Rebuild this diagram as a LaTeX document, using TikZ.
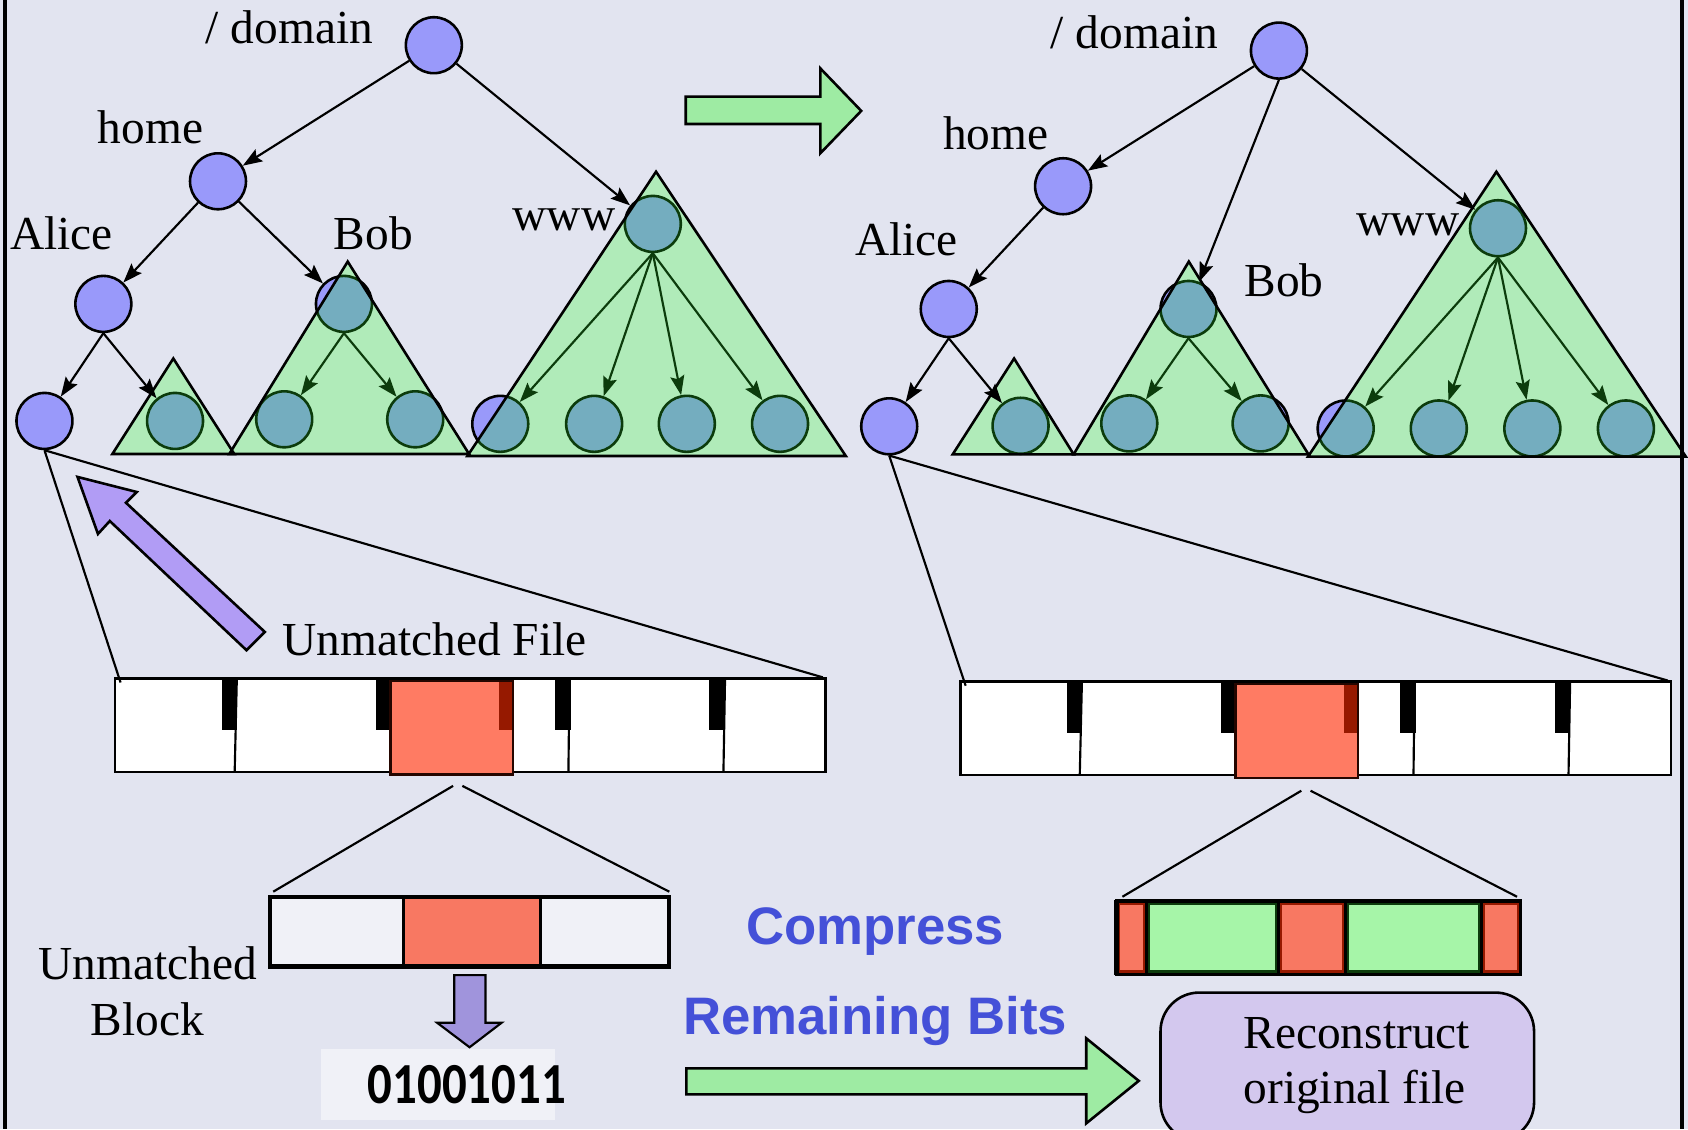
\documentclass[tikz,border=0pt]{standalone}
\usepackage{fontspec}
\setmainfont{Liberation Serif}
\newfontfamily\headsans{Liberation Sans}
\newfontfamily\bitfont[FakeStretch=0.84]{Carlito}
\usetikzlibrary{arrows.meta}

\definecolor{paper}{RGB}{226,228,240}
\definecolor{dirblue}{RGB}{153,153,250}
\definecolor{subteal}{RGB}{116,173,191}
\definecolor{subfill}{RGB}{176,235,185}
\definecolor{subline}{RGB}{12,60,12}
\definecolor{goarrow}{RGB}{158,235,163}
\definecolor{salmon}{RGB}{255,123,99}
\definecolor{blocksalmon}{RGB}{248,120,98}
\definecolor{deepred}{RGB}{150,25,0}
\definecolor{matchgreen}{RGB}{166,245,168}
\definecolor{lightcell}{RGB}{240,241,247}
\definecolor{backarrow}{RGB}{177,156,245}
\definecolor{downarrow}{RGB}{160,148,220}
\definecolor{titleblue}{RGB}{68,80,216}
\definecolor{lavender}{RGB}{211,200,238}

\begin{document}
\begin{tikzpicture}[x=1pt,y=-1pt,
  dirnode/.style={circle,draw=black,fill=dirblue,line width=2.4,minimum size=52,inner sep=0},
  subnode/.style={dirnode,draw=subline,fill=subteal},
  link/.style={line width=2,-{Stealth[length=18,width=13,inset=3]}},
  sublink/.style={link,draw=subline,fill=subline},
  subtree/.style={fill=subfill},
  subedge/.style={draw=black,line width=2.4,line join=miter},
  lbl/.style={font=\fontsize{44}{52}\selectfont,inner sep=0,anchor=base west},
  bigsans/.style={font=\headsans\bfseries\fontsize{49}{56}\selectfont,text=titleblue,inner sep=0,anchor=base west},
  fanline/.style={line width=2},
  blockarrow/.style={draw=black,line width=2.4,line join=miter}
]
\useasboundingbox (0,0) rectangle (1568,1049);
\fill[paper] (0,0) rectangle (1568,1049);
\clip (0,0) rectangle (1568,1049);

% ---------------- directory tree before (left) ----------------
\foreach \n/\p in {Lroot/{403,42},Lhome/{202.5,168.4},Lalice/{96,282.3},Lleaf/{41.3,391},
                   Lbob/{319.5,282.3},Lwww/{606.4,208},Ls1/{162.6,391},Lb1/{264,389.5},Lb2/{385.7,389.5},
                   Lw1/{464.7,393.7},Lw2/{551.9,393.7},Lw3/{638,393.7},Lw4/{724.6,393.7}}
  \node[dirnode] (\n) at (\p) {};

\coordinate (LsA) at (161,333);    \coordinate (LsB) at (104.4,421.7); \coordinate (LsC) at (217.6,421.7);
\coordinate (LbA) at (323,243);    \coordinate (LbB) at (213,421.7);   \coordinate (LbC) at (435.7,421.7);
\coordinate (LwA) at (609.4,159.5);\coordinate (LwB) at (434.2,423.6); \coordinate (LwC) at (785.7,423.6);

\fill[subtree] (LsA) -- (LsB) -- (LsC) -- cycle;
\fill[subtree] (LbA) -- (LbB) -- (LbC) -- cycle;
\fill[subtree] (LwA) -- (LwB) -- (LwC) -- cycle;

\begin{scope}
  \clip (LsA) -- (LsB) -- (LsC) -- cycle;
  \node[subnode] (Ls1In) at (Ls1) {};
\end{scope}
\begin{scope}
  \clip (LbA) -- (LbB) -- (LbC) -- cycle;
  \foreach \n in {Lbob,Lb1,Lb2} \node[subnode] (\n In) at (\n) {};
\end{scope}
\begin{scope}
  \clip (LwA) -- (LwB) -- (LwC) -- cycle;
  \foreach \n in {Lwww,Lw1,Lw2,Lw3,Lw4} \node[subnode] (\n In) at (\n) {};
\end{scope}

\foreach \c in {Lb1In,Lb2In} \draw[sublink] (LbobIn.south) -- (\c);
\foreach \c in {Lw1In,Lw2In,Lw3In,Lw4In} \draw[sublink] (LwwwIn.south) -- (\c);

\draw[subedge] (LsA) -- (LsB) -- (LsC) -- cycle;
\draw[subedge] (LbA) -- (LbB) -- (LbC) -- cycle;
\draw[subedge] (LwA) -- (LwB) -- (LwC) -- cycle;

\draw[link] (Lroot) -- (Lhome);
\draw[link] (Lroot) -- (Lwww);
\draw[link] (Lhome) -- (Lalice);
\draw[link] (Lhome) -- (Lbob);
\draw[link] (Lalice.south) -- (Lleaf);
\draw[link] (Lalice.south) -- (Ls1);

\node[lbl] (LtRoot) at (191,40.3) {/ domain};
\node[lbl] (LtHome) at (90.7,133) {home};
\node[lbl] (LtAlice) at (9.2,232) {Alice};
\node[lbl] (LtBob) at (310,232) {Bob};
\node[lbl] (LtWww) at (476,214) {www};

% ---------------- directory tree after (right) ----------------
\foreach \n/\p in {Rroot/{1188,47},Rhome/{987.5,173},Ralice/{881.3,287},Rleaf/{826,396},
                   Rbob/{1104,287},Rwww/{1391.5,212},Rs1/{948,395.5},Rb1/{1049,393.3},Rb2/{1171,393.3},
                   Rw1/{1250,398},Rw2/{1336.5,398},Rw3/{1423.4,398},Rw4/{1510.3,398}}
  \node[dirnode] (\n) at (\p) {};

\coordinate (RsA) at (942,333);     \coordinate (RsB) at (885,422);     \coordinate (RsC) at (997.3,422);
\coordinate (RbA) at (1104.3,243);  \coordinate (RbB) at (997.3,422);   \coordinate (RbC) at (1215.4,422);
\coordinate (RwA) at (1390,159.5);  \coordinate (RwB) at (1215,424.2);  \coordinate (RwC) at (1566,424.2);

\fill[subtree] (RsA) -- (RsB) -- (RsC) -- cycle;
\fill[subtree] (RbA) -- (RbB) -- (RbC) -- cycle;
\fill[subtree] (RwA) -- (RwB) -- (RwC) -- cycle;

\begin{scope}
  \clip (RsA) -- (RsB) -- (RsC) -- cycle;
  \node[subnode] (Rs1In) at (Rs1) {};
\end{scope}
\begin{scope}
  \clip (RbA) -- (RbB) -- (RbC) -- cycle;
  \foreach \n in {Rbob,Rb1,Rb2} \node[subnode] (\n In) at (\n) {};
\end{scope}
\begin{scope}
  \clip (RwA) -- (RwB) -- (RwC) -- cycle;
  \foreach \n in {Rwww,Rw1,Rw2,Rw3,Rw4} \node[subnode] (\n In) at (\n) {};
\end{scope}

\foreach \c in {Rb1In,Rb2In} \draw[sublink] (RbobIn.south) -- (\c);
\foreach \c in {Rw1In,Rw2In,Rw3In,Rw4In} \draw[sublink] (RwwwIn.south) -- (\c);

\draw[subedge] (RsA) -- (RsB) -- (RsC) -- cycle;
\draw[subedge] (RbA) -- (RbB) -- (RbC) -- cycle;
\draw[subedge] (RwA) -- (RwB) -- (RwC) -- cycle;

\draw[link] (Rroot) -- (Rhome);
\draw[link] (Rroot) -- (Rwww);
\draw[link] (Rroot.south) -- (Rbob);
\draw[link] (Rhome) -- (Ralice);
\draw[link] (Ralice.south) -- (Rleaf);
\draw[link] (Ralice.south) -- (Rs1);

\node[lbl] (RtRoot) at (976,44.9) {/ domain};
\node[lbl] (RtHome) at (876,139.3) {home};
\node[lbl] (RtAlice) at (794.3,236.9) {Alice};
\node[lbl] (RtBob) at (1156,275) {Bob};
\node[lbl] (RtWww) at (1260,218.3) {www};

% transition arrow between the trees
\draw[blockarrow,fill=goarrow] (637,89.8) -- (762,89.8) -- (762,63.5) -- (800,103)
  -- (762,142.4) -- (762,115.2) -- (637,115.2) -- cycle;

% ---------------- file strips ----------------
\foreach \s/\dx/\dy in {L/0/0,R/785/3}{
  \begin{scope}[shift={(\dx,\dy)}]
    \draw[fill=white,line width=2.4] (107,630) rectangle (767,717);
    \fill (205.8,631) rectangle (220,678);
    \fill (349.5,631) rectangle (362.8,678);
    \fill (515.6,631) rectangle (530,678);
    \fill (659,631) rectangle (673.5,678);
    \draw[line width=2] (220,630) -- (218,717);
    \draw[line width=2] (529,630) -- (528,717);
    \draw[line width=2] (673.5,630) -- (672,717);
    \draw[fill=salmon,draw=black!75!deepred,line width=2.4] (362.8,632.4) rectangle (476.5,719.7);
    \fill[deepred] (463.6,633.6) rectangle (475.3,678);
    \coordinate (\s fanA) at (112,634);
    \coordinate (\s fanB) at (764.3,629.2);
  \end{scope}
}
\draw[fanline] (Lleaf.south) -- (LfanA);
\draw[fanline] (Lleaf.south) -- (LfanB);
\draw[fanline] (Rleaf.south) -- (RfanA);
\draw[fanline] (Rleaf.south) -- (RfanB);

% back arrow to the unmatched leaf
\draw[blockarrow,fill=backarrow] (72,443) -- (127,457) -- (117,467) -- (246,587)
  -- (229,604) -- (102,484) -- (91,496) -- cycle;
\node[lbl] (LtFile) at (262.4,608.7) {Unmatched File};

% ---------------- unmatched block (left) ----------------
\coordinate (LzA) at (420.9,730);  \coordinate (LzB) at (253.8,828.3);
\coordinate (LzC) at (429.5,730);  \coordinate (LzD) at (621.7,828.3);
\draw[fanline] (LzA) -- (LzB);
\draw[fanline] (LzC) -- (LzD);
\fill[lightcell] (250.7,833.2) rectangle (621.7,897.7);
\fill[blocksalmon] (375,833.2) rectangle (502,897.7);
\draw[line width=3.2] (375,833.2) -- (375,899);
\draw[line width=3.2] (502,833.2) -- (502,897.7);
\draw[line width=4] (250.7,833.2) rectangle (621.7,897.7);
\node[lbl] (LtUnm) at (35.7,909.9) {Unmatched};
\node[lbl] (LtBlock) at (84,961.7) {Block};

\draw[blockarrow,line width=2,fill=downarrow] (422,905.8) -- (451,905.8) -- (451,950) -- (466,950)
  -- (436.2,972.8) -- (406,950) -- (422,950) -- cycle;
\fill[lightcell] (298,974) rectangle (516,1040);
\node[font=\bitfont\bfseries\fontsize{54}{60}\selectfont,inner sep=0] (bits) at (433.6,1007.5) {01001011};

% ---------------- compressed block (right) ----------------
\coordinate (RzA) at (1208.8,734.5); \coordinate (RzB) at (1042.6,833);
\coordinate (RzC) at (1217.4,734.5); \coordinate (RzD) at (1409.2,833);
\draw[fanline] (RzA) -- (RzB);
\draw[fanline] (RzC) -- (RzD);
\foreach \a/\b/\f/\d in {1037.3/1065.2/blocksalmon/deepred,1065.2/1187.5/matchgreen/subline,
                         1187.5/1249.5/blocksalmon/deepred,1249.5/1376.4/matchgreen/subline,
                         1376.4/1412.6/blocksalmon/deepred}
  \draw[fill=\f,draw=\d,line width=3.5] (\a+1.5,839) rectangle (\b-1.5,903);
\foreach \x in {1065.2,1187.5,1249.5,1376.4} \draw[line width=2.6] (\x,837) -- (\x,905);
\draw[line width=3] (1037.3,837) rectangle (1412.6,905);
\draw[line width=4.5] (1037.3,836) -- (1037.3,906);

\node[bigsans] (tCompress) at (693,877) {Compress};
\node[bigsans] (tRemain) at (634.5,960.5) {Remaining Bits};

\draw[blockarrow,fill=goarrow] (637.5,992.4) -- (1009,992.4) -- (1009,964.5) -- (1057.8,1004)
  -- (1009,1043.5) -- (1009,1016.5) -- (637.5,1016.5) -- cycle;

\node[draw=black,fill=lavender,line width=2.4,rounded corners=36,minimum width=347,minimum height=138,
      inner sep=0] (rebuild) at (1251.5,991) {};
\node[lbl] (tRec1) at (1155,973.5) {Reconstruct};
\node[lbl] (tRec2) at (1155,1025) {original file};

% frame
\draw[line width=4] (4.5,0) -- (4.5,1049);
\draw[line width=4] (1562.5,0) -- (1562.5,1049);
\end{tikzpicture}
\end{document}
